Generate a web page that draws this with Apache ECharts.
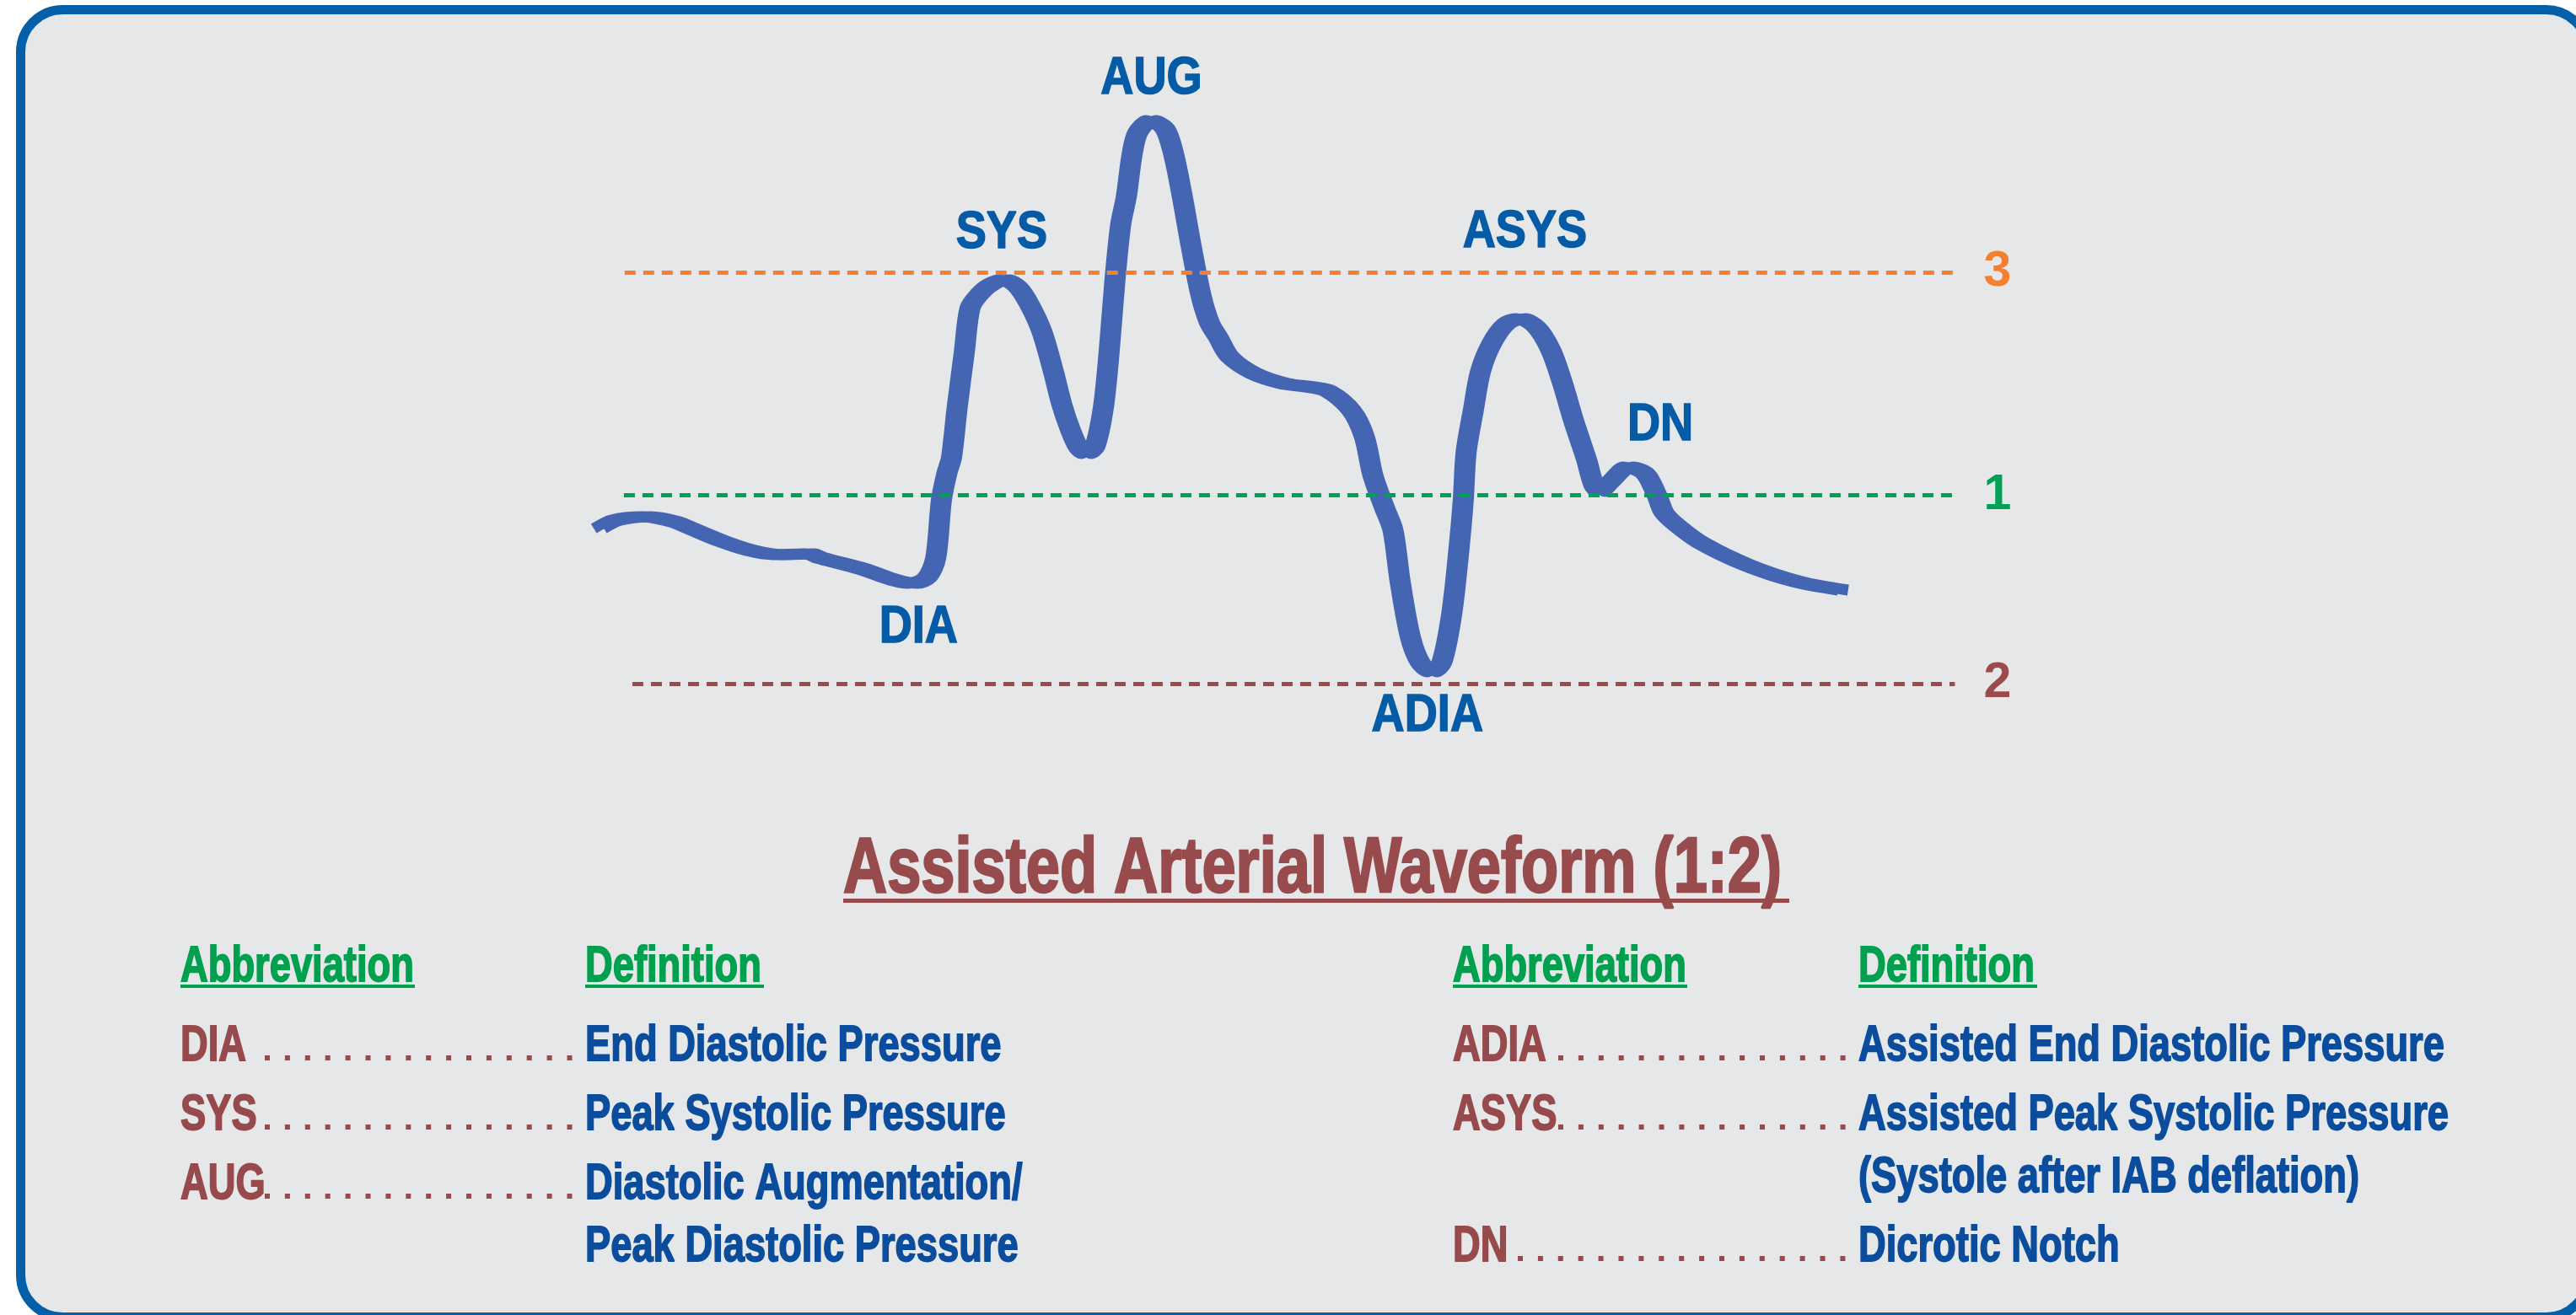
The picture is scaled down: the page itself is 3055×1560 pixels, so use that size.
<!DOCTYPE html>
<html>
<head>
<meta charset="utf-8">
<title>Assisted Arterial Waveform (1:2)</title>
<style>
html,body{margin:0;padding:0;background:#fff;}
#main{width:3055px;height:1560px;}
</style>
</head>
<body>
<div id="main"></div>
<script src="https://cdn.jsdelivr.net/npm/echarts@6.0.0/dist/echarts.min.js"></script>
<script type="text/javascript">
// waveform, time (ms) against pressure
var waveTime = [6,18,39,59,72,92,112,131,153,161,190,212,225,235,241,245,249,252,256,261,265,272,280,289,298,306,315,323,329,335,341,346,352,358,362,366,370,374,378,382,391,401,407,413,419,426,432,438,446,463,484,502,515,531,540,546,554,560,565,572,579,587,594,601,606,609,611,616,621,629,639,649,660,670,678,686,695,700,704,712,724,736,744,749,758,775,808,842,874];
var wavePressure = [44.6,46.6,47.4,46.2,44.4,41.6,39.4,38.4,38.6,37.6,35,32.4,31.6,33,37.6,51.4,58,61.4,73.4,86.6,97,100.4,102.6,103.6,102,98,91.4,82,74,68,63.6,62.4,64,73.4,86.6,103.4,116.6,123.4,133.4,138.6,141.4,139.4,133.4,123.4,112,100,93.4,90,85.4,81.4,79,78.2,77.2,72.6,66.4,57.2,49.6,44.2,32,19,12.8,10.6,12.8,24.4,39.6,51.2,62.6,72.6,81.8,88.6,93.2,94.4,92.4,87,79.4,70.2,61,55,53.4,55.8,59.2,57.6,52.6,48.4,45.4,41.2,35.8,32,30];

// dashed reference levels
var refNames = ['3', '1', '2'];
var refLevels = [105.4, 52.5, 7.8];
var refFrom = [24, 23.5, 29.4];
var refTo = 952;
var refColors = ['#F47F2F', '#00A055', '#9B4B4B'];

// point labels on the curve
var pointNames = ['SYS', 'AUG', 'ASYS', 'DIA', 'ADIA', 'DN'];
var pointTime = [287, 391.5, 652, 229, 584, 746.5];
var pointPressure = [115.5, 152.1, 115.7, 21.9, 0.9, 69.8];

// abbreviation table
var titleText = 'Assisted Arterial Waveform (1:2)';
var headers = ['Abbreviation', 'Definition'];
var leftAbbr = ['DIA', 'SYS', 'AUG', ''];
var leftDef = ['End Diastolic Pressure', 'Peak Systolic Pressure', 'Diastolic Augmentation/', 'Peak Diastolic Pressure'];
var rightAbbr = ['ADIA', 'ASYS', '', 'DN'];
var rightDef = ['Assisted End Diastolic Pressure', 'Assisted Peak Systolic Pressure', '(Systole after IAB deflation)', 'Dicrotic Notch'];

var FONT = 'Liberation Sans, Arial, sans-serif';
var BROWN = '#974A4B', BLUE = '#0B4D9C', GREEN = '#00A04F', WAVE = '#4466B2';

function txt(s, x, base, size, color, sx, bold) {
    return {
        type: 'text', x: x, y: base - size * 0.29, scaleX: sx, z: 10, silent: true,
        style: {
            text: s, fill: color, stroke: color, lineWidth: bold, fontSize: size, fontWeight: 'bold', fontFamily: FONT,
            align: 'left', verticalAlign: 'middle', textAlign: 'left', textVerticalAlign: 'middle'
        }
    };
}
function bar(x, y, w, h, color) {
    return { type: 'rect', z: 10, silent: true, shape: { x: x, y: y, width: w, height: h }, style: { fill: color } };
}
function dots(x1, n, base) {
    return {
        type: 'line', z: 10, silent: true,
        shape: { x1: x1, y1: base - 4, x2: x1 + n * 23.9 - 17.9, y2: base - 4 },
        style: { stroke: BROWN, lineWidth: 6, lineDash: [6, 17.9], lineCap: 'butt' }
    };
}

var els = [];
// frame
els.push({
    type: 'rect', z: -10, silent: true,
    shape: { x: 24.5, y: 11.5, width: 3045, height: 1551, r: 50 },
    style: { fill: '#E6E7E9', stroke: '#035FA8', lineWidth: 11 }
});
// title
els.push(txt(titleText, 1000, 1059, 92, '#984B4C', 0.785, 2.5));
els.push(bar(1000, 1066, 1122, 5, '#984B4C'));
// headers
els.push(txt(headers[0], 214, 1165, 60, GREEN, 0.755, 1.8));
els.push(bar(214, 1168, 278, 4, GREEN));
els.push(txt(headers[1], 694, 1165, 60, GREEN, 0.755, 1.8));
els.push(bar(694, 1168, 212, 4, GREEN));
els.push(txt(headers[0], 1723, 1165, 60, GREEN, 0.755, 1.8));
els.push(bar(1723, 1168, 278, 4, GREEN));
els.push(txt(headers[1], 2204, 1165, 60, GREEN, 0.755, 1.8));
els.push(bar(2204, 1168, 212, 4, GREEN));
// rows
var leftBase = [1259, 1341, 1423, 1497];
var rightBase = [1259, 1341, 1415, 1497];
var rightDots = [[1848, 15], [1848, 15], null, [1800, 17]];
leftAbbr.forEach(function (a, i) {
    if (a) {
        els.push(txt(a, 214, leftBase[i], 60, BROWN, 0.755, 1.8));
        els.push(dots(314, 16, leftBase[i]));
    }
    els.push(txt(leftDef[i], 694, leftBase[i], 60, BLUE, 0.755, 1.8));
});
rightAbbr.forEach(function (a, i) {
    if (a) {
        els.push(txt(a, 1723, rightBase[i], 60, BROWN, 0.755, 1.8));
        els.push(dots(rightDots[i][0], rightDots[i][1], rightBase[i]));
    }
    els.push(txt(rightDef[i], 2204, rightBase[i], 60, BLUE, 0.755, 1.8));
});

// the pen of the original is wide and flat: draw the trace twice, 12px apart
function waveSeries(gridIndex) {
    return {
        name: 'Assisted Arterial Waveform',
        type: 'line',
        xAxisIndex: gridIndex, yAxisIndex: gridIndex,
        silent: true, z: 3,
        showSymbol: false, symbol: 'none',
        smooth: 0.3,
        lineStyle: { color: WAVE, width: 13, cap: 'butt', join: 'round' },
        data: waveTime.map(function (t, i) { return [t, wavePressure[i]]; })
    };
}

var myChart = echarts.init(document.getElementById('main'));
var option = {
    backgroundColor: '#ffffff',
    animation: false,
    graphic: { elements: els },
    grid: [
        { left: 700, top: 50, width: 1700, height: 800, show: false },
        { left: 694, top: 50, width: 1700, height: 800, show: false },
        { left: 706, top: 50, width: 1700, height: 800, show: false }
    ],
    xAxis: [0, 1, 2].map(function (g) {
        return { gridIndex: g, type: 'value', min: 0, max: 1000, show: false };
    }),
    yAxis: [0, 1, 2].map(function (g) {
        return { gridIndex: g, type: 'value', min: 0, max: 160, show: false };
    }),
    series: [
        {
            type: 'custom',
            xAxisIndex: 0, yAxisIndex: 0,
            silent: true, z: 5,
            data: pointTime.map(function (t, i) { return [t, pointPressure[i]]; }),
            renderItem: function (params, api) {
                var p = api.coord([api.value(0), api.value(1)]);
                return {
                    type: 'text', x: p[0], y: p[1] + 4, scaleX: 0.86,
                    style: {
                        text: pointNames[params.dataIndex], fill: '#055BA5', stroke: '#055BA5', lineWidth: 1.5,
                        fontSize: 63, fontWeight: 'bold', fontFamily: FONT,
                        align: 'center', verticalAlign: 'middle', textAlign: 'center', textVerticalAlign: 'middle'
                    }
                };
            },
            markLine: {
                silent: true,
                symbol: ['none', 'none'],
                lineStyle: { type: [13, 9], width: 5, opacity: 1 },
                label: {
                    show: true, position: 'end', distance: 34, formatter: '{b}',
                    fontSize: 59, fontWeight: 'bold', fontFamily: FONT
                },
                data: refLevels.map(function (v, i) {
                    return [
                        { name: refNames[i], coord: [refFrom[i], v], lineStyle: { color: refColors[i] }, label: { color: refColors[i] } },
                        { coord: [refTo, v] }
                    ];
                })
            }
        },
        waveSeries(1),
        waveSeries(2)
    ]
};
myChart.setOption(option);
</script>
</body>
</html>
